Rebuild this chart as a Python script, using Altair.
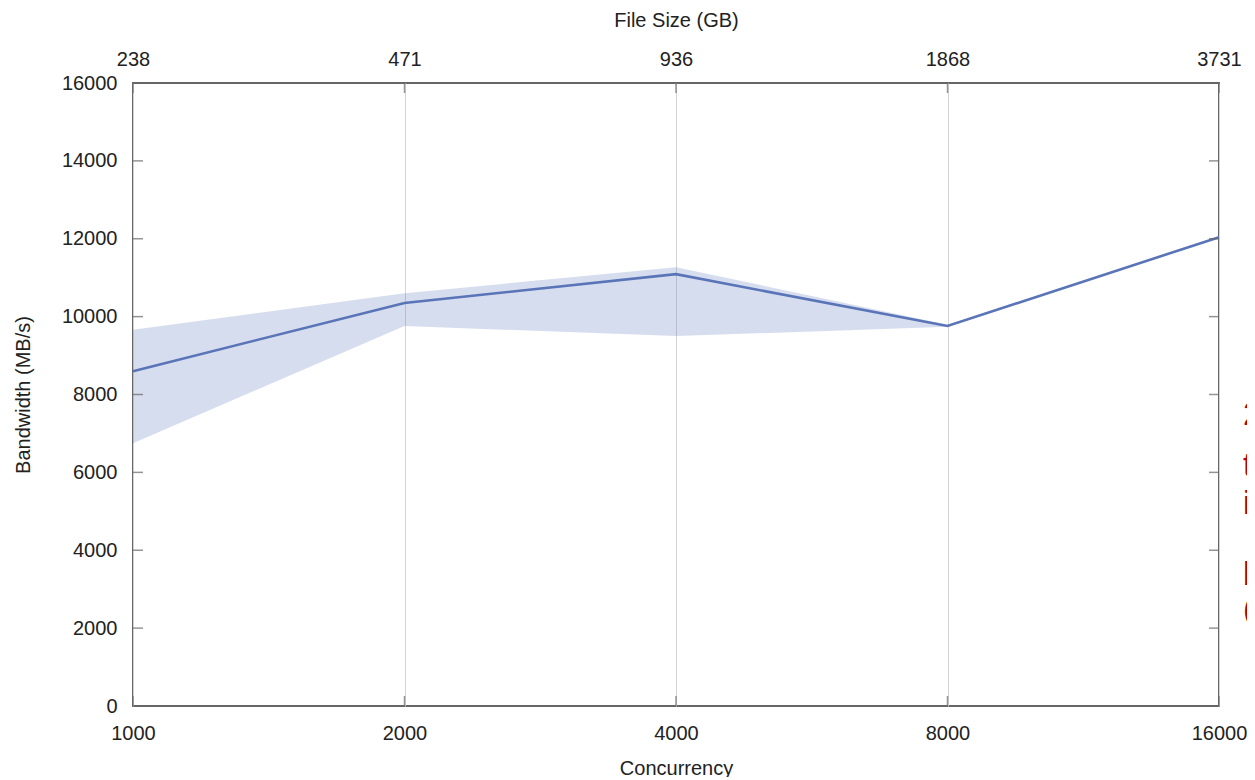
import altair as alt
import pandas as pd

# ---- data ----
concurrency = [1000, 2000, 4000, 8000, 16000]
file_size_gb = ["238", "471", "936", "1868", "3731"]
bandwidth = [8600, 10350, 11090, 9760, 12040]
band_low = [6750, 9760, 9500, 9740, 12040]
band_high = [9660, 10600, 11270, 9790, 12040]
y_ticks = [0, 2000, 4000, 6000, 8000, 10000, 12000, 14000, 16000]

# clipped red annotation fragments at the right edge
red_chars = ["2", "t", "i", "b", "("]
red_y = [7220, 5910, 4930, 3110, 2200]

FONT = "Liberation Sans"
W, H = 1086, 623
TXT = dict(labelFont=FONT, titleFont=FONT, labelFontSize=20, titleFontSize=20,
           labelColor="#222222", titleColor="#222222", titleFontWeight="normal")

df = pd.DataFrame({"c": concurrency, "bw": bandwidth, "lo": band_low, "hi": band_high})
ytick_df = pd.DataFrame({"y": y_ticks, "xl": concurrency[0], "xr": concurrency[-1]})
xtick_df = pd.DataFrame({"c": concurrency, "yb": y_ticks[0], "yt": y_ticks[-1]})
red_df = pd.DataFrame({"t": red_chars, "y": red_y})

xscale = alt.Scale(type="log", base=2, domain=[concurrency[0], concurrency[-1]], nice=False)
yscale = alt.Scale(domain=[y_ticks[0], y_ticks[-1]], nice=False)

top_expr = "".join(f"datum.value == {c} ? '{s}' : " for c, s in zip(concurrency, file_size_gb)) + "''"

base = alt.Chart(df)

area = base.mark_area(color="#5b77bb", opacity=0.25).encode(
    x=alt.X("c:Q", scale=xscale, axis=alt.Axis(
        orient="bottom", values=concurrency, format="d", title="Concurrency",
        grid=True, gridColor="#d4d4d4", gridWidth=1, ticks=False, domain=False,
        labelFlush=False, labelPadding=17, titlePadding=15, **TXT)),
    y=alt.Y("lo:Q", scale=yscale, axis=alt.Axis(
        orient="left", values=y_ticks, format="d", title="Bandwidth (MB/s)", grid=False,
        ticks=False, domain=False, labelPadding=16, titlePadding=28, **TXT)),
    y2="hi:Q",
)

line = base.mark_line(color="#5a74b8", strokeWidth=2.6).encode(
    x=alt.X("c:Q", scale=xscale, axis=alt.Axis(
        orient="top", values=concurrency, labelExpr=top_expr, title="File Size (GB)",
        grid=False, ticks=False, domain=False, labelFlush=False,
        labelPadding=14, titlePadding=19, **TXT)),
    y=alt.Y("bw:Q", scale=yscale, axis=None),
)

tick_style = dict(color="#666666", thickness=1.5, size=10)
lt = alt.Chart(ytick_df).mark_tick(orient="horizontal", xOffset=5, **tick_style).encode(
    x=alt.X("xl:Q", scale=xscale, axis=None), y=alt.Y("y:Q", scale=yscale, axis=None))
rt = alt.Chart(ytick_df).mark_tick(orient="horizontal", xOffset=-5, **tick_style).encode(
    x=alt.X("xr:Q", scale=xscale, axis=None), y=alt.Y("y:Q", scale=yscale, axis=None))
bt = alt.Chart(xtick_df).mark_tick(orient="vertical", yOffset=-5, **tick_style).encode(
    x=alt.X("c:Q", scale=xscale, axis=None), y=alt.Y("yb:Q", scale=yscale, axis=None))
tt = alt.Chart(xtick_df).mark_tick(orient="vertical", yOffset=5, **tick_style).encode(
    x=alt.X("c:Q", scale=xscale, axis=None), y=alt.Y("yt:Q", scale=yscale, axis=None))

red = alt.Chart(red_df).mark_text(
    align="left", baseline="alphabetic", fontSize=33, color="#c00000", font=FONT
).encode(x=alt.value(W + 24), y=alt.Y("y:Q", scale=yscale, axis=None), text="t:N")

chart = alt.layer(area, line, lt, rt, bt, tt, red).resolve_axis(
    x="independent", y="independent"
).properties(
    width=W, height=H,
    background="white",
    autosize=alt.AutoSizeParams(type="none"),
    padding={"left": 125, "top": 75, "right": 28, "bottom": 71},
).configure_view(
    stroke="#666666", strokeWidth=2
)

chart.save("out.html", embed_options={"renderer": "svg", "actions": False})
